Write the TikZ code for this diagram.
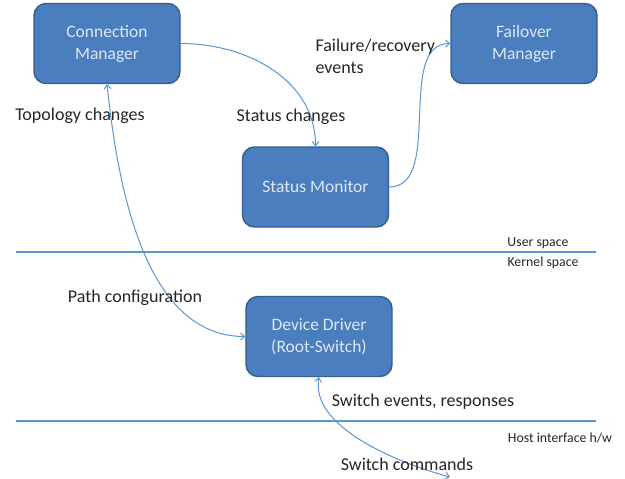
\documentclass[tikz,border=0pt]{standalone}
\usepackage{fontspec}
\setmainfont{Carlito}
\usepackage{tikz}
\usetikzlibrary{positioning, arrows.meta}
\definecolor{boxfill}{RGB}{74,126,190}
\definecolor{boxline}{RGB}{56,93,140}
\definecolor{boxtext}{RGB}{222,232,245}
\definecolor{wire}{RGB}{88,150,215}
\tikzset{>={Straight Barb[length=4pt,width=7pt]}, % thin open arrow heads
module/.style={draw=boxline, line width=1.4pt, fill=boxfill, rounded corners=12pt,
  minimum width=146pt, minimum height=80pt, align=center, text=boxtext,
  font=\fontsize{17.5}{22}\selectfont}, % the blue boxes
flow/.style={wire, line width=1pt}, % the connecting curves
layer/.style={wire, line width=1.2pt}, % the separating lines
note/.style={text=black!85, font=\fontsize{18}{22}\selectfont}, % edge texts
tag/.style={text=black!85, font=\fontsize{13.8}{16}\selectfont}, % layer names
}
\begin{document}
\begin{tikzpicture}[x=1pt, y=-1pt]
\useasboundingbox[fill=white] (0,0) rectangle (625,479);

\node[module] (cm) at (107,43.5) {Connection\\Manager};
\node[module] (fm) at (524,43.5) {Failover\\Manager};
\node[module] (sm) at (315.5,187) {Status Monitor};
\node[module] (dd) at (319,336.5) {Device Driver\\(Root-Switch)};

% layers
\coordinate (ul) at (16,252);
\coordinate (ur) at (596,252);
\coordinate (hl) at (16,421);
\coordinate (hr) at (596,421);
\coordinate (hw) at (450,477);
\draw[layer] (ul) -- (ur);
\draw[layer] (hl) -- (hr);
\node[tag, above=0pt of ur, xshift=-58pt] (us) {User space};
\node[tag, below=1pt of ur, xshift=-53pt] (ks) {Kernel space};
\node[tag, below=8pt of hr, xshift=-36pt] (hi) {Host interface h/w};

\draw[flow, ->] (cm.east) to[out=0, in=90] (sm.north);
\draw[flow, ->] (sm.east) to[out=0, in=180, looseness=0.9] (fm.west);
\draw[flow, <->] (cm.south) to[out=-84, in=180, looseness=0.9] (dd.west);
\draw[flow, <->] (dd.south) to[out=-100, in=165, looseness=0.8] (hw);

\node[note] (tc) at (80,116) {Topology changes};
\node[note] (sc) at (291,117) {Status changes};
\node[note, anchor=west, align=left] (fr) at (312,56) {Failure/recovery\\events};
\node[note] (pc) at (135,298) {Path configuration};
\node[note] (se) at (423,402) {Switch events, responses};
\node[note] (cmds) at (407,464) {Switch commands};

\end{tikzpicture}
\end{document}
